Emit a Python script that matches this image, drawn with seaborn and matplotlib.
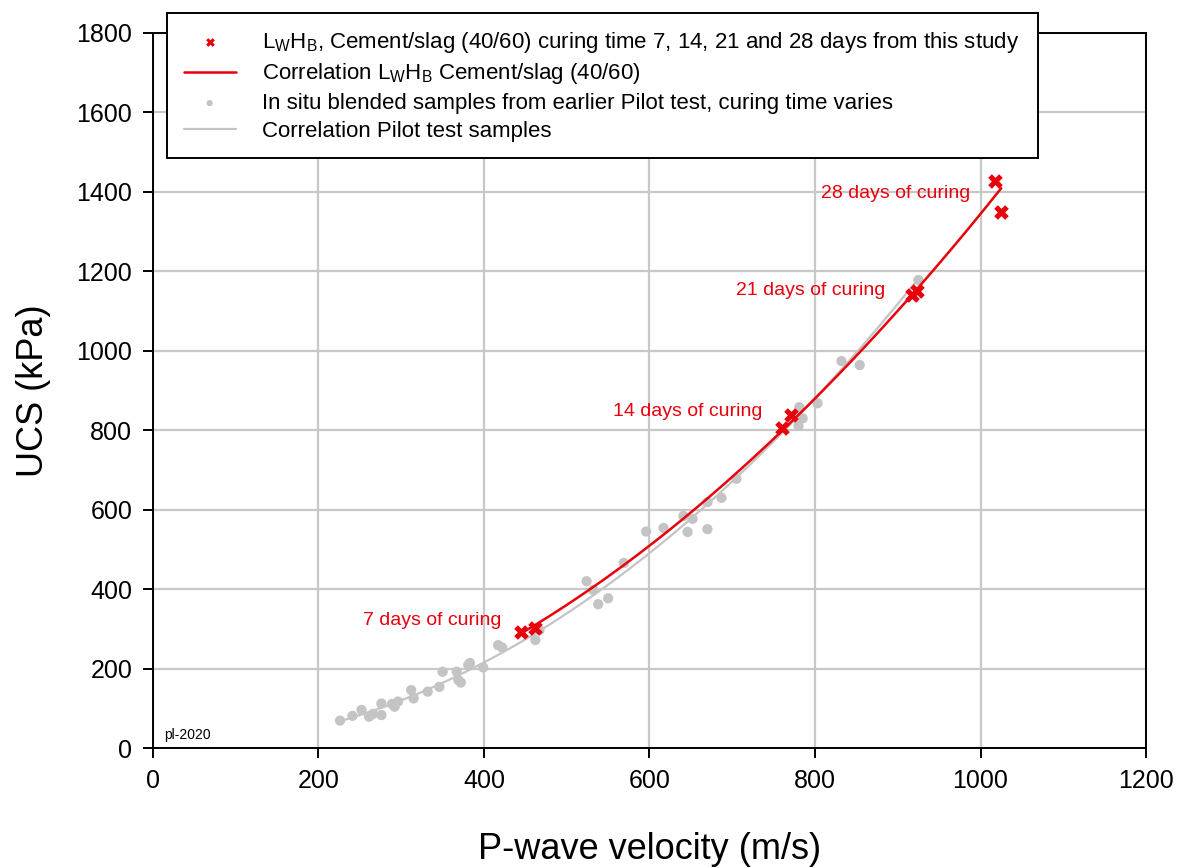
import matplotlib
matplotlib.use("Agg")
import matplotlib.pyplot as plt
import numpy as np
import pandas as pd
import seaborn as sns

# L_W H_B cement/slag (40/60) samples, 7/14/21/28 days
study_v = [445, 462, 760, 771, 917, 923, 1018, 1025]
study_ucs = [292, 303, 806, 838, 1141, 1151, 1428, 1350]

# in situ blended samples from the pilot test
pilot_v = [226, 241, 252, 261, 266, 276, 276, 289, 292, 296, 312, 315, 332,
           346, 350, 367, 369, 372, 381, 383, 399, 417, 422, 462, 467, 524,
           532, 538, 550, 569, 596, 617, 641, 646, 652, 670, 670, 687, 705,
           780, 785, 781, 803, 832, 854, 925]
pilot_ucs = [69, 81, 96, 79, 86, 83, 112, 111, 104, 117, 146, 125, 142,
             154, 192, 192, 171, 165, 209, 214, 203, 259, 253, 272, 297, 420,
             398, 362, 377, 466, 545, 554, 584, 544, 577, 619, 551, 630, 678,
             811, 830, 858, 868, 974, 964, 1178]

curing_labels = ["7 days of curing", "14 days of curing",
                 "21 days of curing", "28 days of curing"]
label_pos = [(421, 320), (736, 846), (885, 1153), (988, 1397)]

x_ticks = [0, 200, 400, 600, 800, 1000, 1200]
y_ticks = [0, 200, 400, 600, 800, 1000, 1200, 1400, 1600, 1800]


def power_fit(v, u):
    b, ln_a = np.polyfit(np.log(v), np.log(u), 1)
    xs = np.linspace(min(v), max(v), 200)
    return pd.DataFrame({"v": xs, "ucs": np.exp(ln_a) * xs ** b})


study = pd.DataFrame({"v": study_v, "ucs": study_ucs})
pilot = pd.DataFrame({"v": pilot_v, "ucs": pilot_ucs})
study_fit = power_fit(study_v, study_ucs)
pilot_fit = power_fit(pilot_v, pilot_ucs)

sns.set_style("ticks")
plt.rcParams['font.family'] = ['Liberation Sans', 'DejaVu Sans']
plt.rcParams['mathtext.fontset'] = 'custom'
plt.rcParams['mathtext.rm'] = 'Liberation Sans'
plt.rcParams['text.color'] = 'black'
plt.rcParams['axes.labelcolor'] = 'black'
plt.rcParams['xtick.color'] = 'black'
plt.rcParams['ytick.color'] = 'black'

fig = plt.figure(figsize=(11.85, 8.68), dpi=100)
ax = fig.add_axes([0.1291, 0.1382, 0.8380, 0.8238])

grey = "#c4c4c4"
red = "#e8000b"

sns.scatterplot(data=pilot, x="v", y="ucs", ax=ax, color=grey, s=55,
                edgecolor="none", zorder=3,
                label="In situ blended samples from earlier Pilot test, curing time varies")
sns.lineplot(data=pilot_fit, x="v", y="ucs", ax=ax, color=grey, lw=1.6,
             zorder=3, label="Correlation Pilot test samples")
sns.lineplot(data=study_fit, x="v", y="ucs", ax=ax, color=red, lw=1.8,
             zorder=4, label=r"Correlation $\mathregular{L_WH_B}$ Cement/slag (40/60)")
sns.scatterplot(data=study, x="v", y="ucs", ax=ax, color=red, marker="X",
                s=110, linewidth=0, zorder=5,
                label=r"$\mathregular{L_WH_B}$, Cement/slag (40/60) curing time 7, 14, 21 and 28 days from this study")

for txt, (x, y) in zip(curing_labels, label_pos):
    ax.text(x, y, txt, color=red, fontsize=14, ha="right", va="center")

ax.text(14, 33, "pl-2020", fontsize=10, ha="left", va="center")

ax.set_xlim(0, 1200)
ax.set_ylim(0, 1800)
ax.set_xticks(x_ticks)
ax.set_yticks(y_ticks)
ax.grid(True, color="#c8c8c8", lw=1.6, zorder=0)
ax.set_axisbelow(True)
for sp in ax.spines.values():
    sp.set_linewidth(1.4)
    sp.set_color("black")
    sp.set_zorder(6)
ax.tick_params(axis="both", direction="out", length=7, width=1.4,
               labelsize=18, pad=8)
ax.set_xlabel("P-wave velocity (m/s)", fontsize=26, labelpad=28)
ax.set_ylabel("UCS (kPa)", fontsize=26, labelpad=18)

handles, labels = ax.get_legend_handles_labels()
order = [3, 2, 0, 1]
leg = ax.legend([handles[i] for i in order], [labels[i] for i in order],
                loc="upper left", bbox_to_anchor=(0.014, 0.827, 0.877, 0.201),
                mode="expand", fontsize=16, frameon=True, fancybox=False,
                edgecolor="black", framealpha=1, borderpad=0.75,
                labelspacing=0.3, handlelength=2.35, handletextpad=1.2,
                markerscale=0.6, borderaxespad=0)
leg.get_frame().set_linewidth(1.4)
leg.set_zorder(10)

fig.savefig("out.png", dpi=100)
